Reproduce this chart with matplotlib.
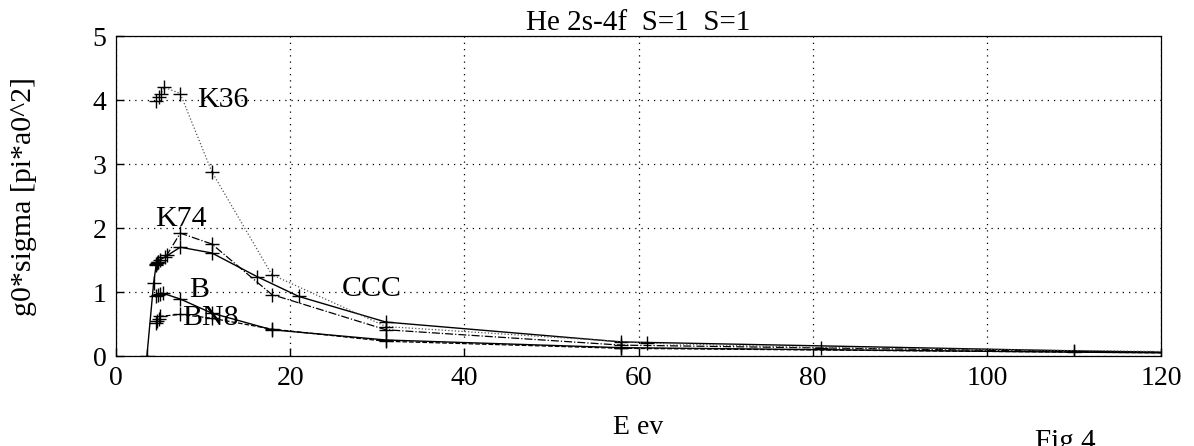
import matplotlib
matplotlib.use("Agg")
import matplotlib.pyplot as plt

plt.rcParams['font.family'] = ['Liberation Serif', 'DejaVu Serif']

# CCC (solid, upper)
ccc_e = [3.55, 4.32, 4.63, 4.8, 5.0, 5.66, 7.38, 11.0, 16.2, 21.0, 31.0, 58.0, 110.0, 120.0]
ccc_s = [0.0, 1.14, 1.44, 1.47, 1.50, 1.55, 1.70, 1.61, 1.24, 0.93, 0.53, 0.22, 0.08, 0.06]

# K74 (dash-dot)
k74_e = [4.6, 4.7, 4.8, 5.85, 7.38, 11.0, 17.9, 31.0, 58.0, 110.0, 120.0]
k74_s = [1.42, 1.45, 1.47, 1.58, 1.92, 1.75, 0.96, 0.41, 0.17, 0.07, 0.06]

# K36 (dotted)
k36_e = [4.63, 4.9, 5.16, 5.55, 7.38, 11.0, 17.9, 31.0, 61.0, 81.0, 120.0]
k36_s = [3.99, 4.04, 4.10, 4.20, 4.10, 2.88, 1.27, 0.46, 0.20, 0.13, 0.07]

# B (solid, lower)
b_e = [4.6, 4.8, 5.0, 5.4, 7.38, 11.0, 17.9, 31.0, 58.0, 110.0, 120.0]
b_s = [0.93, 0.95, 0.97, 0.98, 0.89, 0.67, 0.41, 0.25, 0.13, 0.06, 0.05]

# BN8 (dashed)
bn8_e = [4.6, 4.7, 4.9, 5.1, 7.38, 11.0, 17.9, 31.0, 58.0, 110.0, 120.0]
bn8_s = [0.52, 0.55, 0.58, 0.62, 0.65, 0.59, 0.42, 0.23, 0.12, 0.06, 0.05]

x_ticks = [0, 20, 40, 60, 80, 100, 120]
y_ticks = [0, 1, 2, 3, 4, 5]

fig = plt.figure(figsize=(11.94, 4.46), dpi=100)
ax = fig.add_axes([116/1194, 90/446, 1045/1194, 320/446])

ms = 10
def mk(n):
    return list(range(n - 1))

ax.plot(ccc_e, ccc_s, '-', color='black', lw=1.0, marker='+', ms=ms, mew=1.0, markevery=mk(len(ccc_e)))
ax.plot(k74_e, k74_s, '-.', color='black', lw=0.9, marker='+', ms=ms, mew=1.0, markevery=mk(len(k74_e) - 1))
ax.plot(k36_e, k36_s, ':', color='#555555', lw=0.9, marker='+', ms=ms, mew=1.0,
        markeredgecolor='black', markevery=mk(len(k36_e)))
ax.plot(b_e, b_s, '-', color='black', lw=1.0, marker='+', ms=ms, mew=1.0, markevery=mk(len(b_e)))
ax.plot(bn8_e, bn8_s, '--', color='black', lw=0.9, marker='+', ms=ms, mew=1.0, markevery=mk(len(bn8_e) - 1))

ax.set_xlim(0, 120)
ax.set_ylim(0, 5)
ax.set_xticks(x_ticks)
ax.set_yticks(y_ticks)
ax.tick_params(direction='in', length=6, width=1, labelsize=20, pad=7)
ax.grid(True, linestyle=(0, (1, 4)), color='black', linewidth=0.9)
for sp in ax.spines.values():
    sp.set_linewidth(0.9)

fs = 21.5
ax.text(9.3, 4.0, 'K36', fontsize=fs, va='center', ha='left')
ax.text(4.5, 2.14, 'K74', fontsize=fs, va='center', ha='left')
ax.text(8.45, 1.03, 'B', fontsize=fs, va='center', ha='left')
ax.text(7.57, 0.59, 'BN8', fontsize=fs, va='center', ha='left')
ax.text(25.95, 1.05, 'CCC', fontsize=fs, va='center', ha='left')

ax.set_title('He 2s-4f  S=1  S=1', fontsize=21, pad=3)
ax.set_xlabel('E ev', fontsize=20)
ax.xaxis.set_label_coords(0.5, -0.185)
ax.set_ylabel('g0*sigma [pi*a0^2]', fontsize=21.5)
ax.yaxis.set_label_coords(-0.0756, 0.497)

fig.text(1065/1194, 1 - 429/446, 'Fig 4', fontsize=21, ha='center', va='top')

fig.savefig('out.png', dpi=100)
